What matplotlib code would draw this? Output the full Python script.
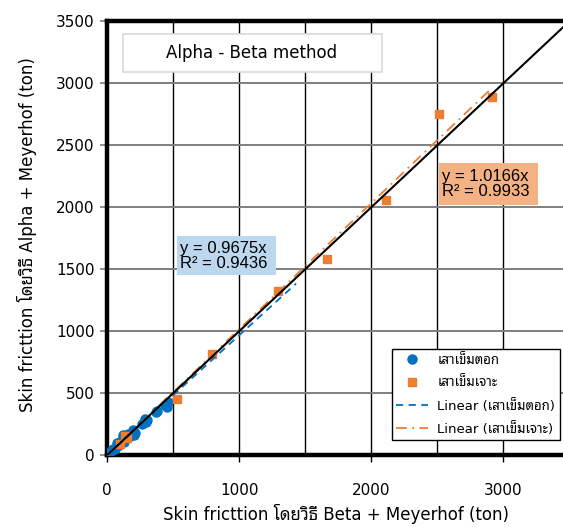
import numpy as np
import matplotlib
matplotlib.use('Agg')
import matplotlib.pyplot as plt
from matplotlib.lines import Line2D
from matplotlib.patches import Rectangle

plt.rcParams['font.family'] = ['DejaVu Sans', 'Noto Sans Thai Looped']

# เสาเข็มตอก (driven piles)
driven_x = [0, 30, 45, 60, 70, 85, 100, 120, 125, 140, 160, 175, 195, 210, 200,
            265, 275, 285, 300, 290, 370, 380, 440, 450, 460]
driven_y = [0, 35, 50, 45, 95, 80, 110, 160, 105, 140, 170, 150, 200, 175, 160,
            250, 270, 290, 280, 265, 350, 355, 400, 385, 430]
# เสาเข็มเจาะ (bored piles)
bored_x = [95, 135, 150, 530, 795, 1293, 1667, 2108, 2511, 2912]
bored_y = [90, 150, 135, 452, 818, 1325, 1583, 2058, 2750, 2892]

slope_driven = 0.9675
slope_bored = 1.0166
driven_fit_x = [0, 1430]
bored_fit_x = [0, 2912]
ref_x = [0, 3500]

W, H = 563, 527


def fx(px):
    return px / W


def fy(py):
    return 1 - py / H


fig = plt.figure(figsize=(5.63, 5.27), dpi=100)
ax = fig.add_axes([0.1906, 0.1366, 0.8206, 0.8228])

ax.plot(driven_x, driven_y, 'o', color='#0070C0', ms=6.5, mec='#0070C0', zorder=3)
ax.plot(bored_x, bored_y, 's', color='#ED7D31', ms=5.5, mec='#ED7D31', zorder=3)

ax.plot(driven_fit_x, np.array(driven_fit_x) * slope_driven, color='#0070C0',
        lw=1.3, ls=(0, (4, 3)), zorder=4)
ax.plot(bored_fit_x, np.array(bored_fit_x) * slope_bored, color='#ED7D31',
        lw=1.3, ls=(0, (6, 3, 1, 3)), zorder=4)
ax.plot(ref_x, ref_x, color='black', lw=1.5, zorder=5)

ax.set_xlim(0, 3500)
ax.set_ylim(0, 3500)
ax.set_xticks(range(0, 3001, 1000))
ax.set_yticks(range(0, 3501, 500))
ax.set_xticks(range(0, 3501, 500), minor=True)

ax.grid(axis='x', which='both', color='black', lw=1.0)
ax.grid(axis='y', color='#7F7F7F', lw=1.4)
ax.set_axisbelow(True)

for s in ['left', 'bottom', 'top']:
    ax.spines[s].set_linewidth(3.2)
ax.spines['right'].set_visible(False)

ax.tick_params(axis='y', length=5, width=1.2, color='#7F7F7F', pad=4, labelsize=11)
ax.tick_params(axis='x', length=5, width=1, color='black', pad=15, labelsize=11)
ax.tick_params(axis='x', which='minor', length=0)

fig.text(0.597, 0.0247, 'Skin fricttion โดยวิธี Beta + Meyerhof (ton)',
         ha='center', va='center', fontsize=12)
fig.text(0.048, 0.555, 'Skin fricttion โดยวิธี Alpha + Meyerhof (ton)',
         ha='center', va='center', rotation=90, fontsize=12)

# title box
fig.patches.append(Rectangle((fx(123), fy(72.3)), fx(382) - fx(123), fy(33.6) - fy(72.3),
                             transform=fig.transFigure, fc='white', ec='#D9D9D9',
                             lw=1.2, zorder=6))
fig.text(fx(252), fy(53), 'Alpha - Beta method', ha='center', va='center',
         fontsize=12, zorder=7)

# trendline equation boxes
fig.patches.append(Rectangle((fx(177.3), fy(275)), fx(276) - fx(177.3), fy(236) - fy(275),
                             transform=fig.transFigure, fc='#BDD7EE', ec='none', zorder=6))
fig.text(fx(180), fy(255.5), 'y = 0.9675x\nR² = 0.9436', ha='left', va='center',
         family='Liberation Sans', fontsize=12, linespacing=1.0, zorder=7)
fig.patches.append(Rectangle((fx(439.3), fy(205)), fx(538.3) - fx(439.3), fy(162.7) - fy(205),
                             transform=fig.transFigure, fc='#F4B183', ec='none', zorder=6))
fig.text(fx(442.5), fy(184), 'y = 1.0166x\nR² = 0.9933', ha='left', va='center',
         family='Liberation Sans', fontsize=12, linespacing=1.0, zorder=7)

handles = [
    Line2D([], [], marker='o', ls='none', color='#0070C0', ms=6.5),
    Line2D([], [], marker='s', ls='none', color='#ED7D31', ms=5.5),
    Line2D([], [], color='#0070C0', lw=1.3, ls=(0, (4, 3))),
    Line2D([], [], color='#ED7D31', lw=1.3, ls=(0, (6, 3, 1, 3))),
]
labels = ['เสาเข็มตอก', 'เสาเข็มเจาะ', 'Linear (เสาเข็มตอก)', 'Linear (เสาเข็มเจาะ)']
leg = fig.legend(handles, labels, loc='upper left', bbox_to_anchor=(fx(391.7), fy(349.3)),
                 fontsize=9.5, frameon=True, fancybox=False, edgecolor='black',
                 framealpha=1, borderpad=0.35, labelspacing=0.7, handlelength=2.4,
                 handletextpad=0.7, borderaxespad=0)
leg.get_frame().set_linewidth(1.0)

fig.savefig('out.png', dpi=100)
